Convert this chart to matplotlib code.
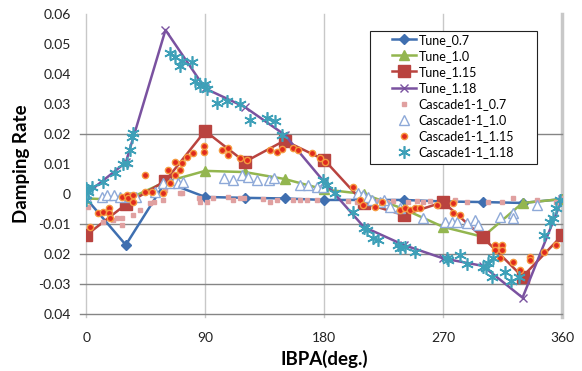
import numpy as np
import matplotlib
matplotlib.use("Agg")
import matplotlib.pyplot as plt
from matplotlib.patches import Rectangle

plt.rcParams['font.family'] = ['Lato', 'DejaVu Sans']

# Tune curves (every 30 deg)
tune_x = [0, 30, 60, 90, 120, 150, 180, 210, 240, 270, 300, 330, 360]
tune_07 = [-0.0015, -0.017, 0.004, -0.001, -0.0013, -0.0015, -0.002, -0.002,
           -0.002, -0.0025, -0.0027, -0.003, -0.0017]
tune_10 = [-0.0015, -0.002, 0.004, 0.0077, 0.0073, 0.005, 0.0015, 0.0,
           -0.005, -0.011, -0.0143, -0.003, -0.0017]
tune_115 = [-0.0138, -0.0035, 0.0044, 0.021, 0.0107, 0.0178, 0.0114, -0.003,
            -0.007, -0.0027, -0.0145, -0.0276, -0.0138]
tune_118 = [0.0, 0.0105, 0.0547, 0.0352, 0.029, 0.0198, 0.004, -0.011,
            -0.017, -0.0215, -0.024, -0.0346, -0.0017]

# Cascade1-1 scatter data
c07_x = [1.5, 10.6, 13, 20, 23, 27, 27, 35.5, 41, 48, 51, 58, 60, 71, 72.5,
         85, 86, 91.5, 96, 107, 111, 116.5, 119, 134, 139, 144.5, 156.5, 162,
         167, 174.7, 198, 205, 215, 221, 227.6, 232, 243.5, 250, 255, 260,
         279, 288, 304, 314.6, 323, 341, 355, 360]
c07_y = [-0.0044, -0.0064, -0.0094, -0.0087, -0.008, -0.008, -0.0104, -0.007,
         -0.0054, -0.003, -0.0027, -0.002, 0.0013, 0.0003, 0.0003, -0.0013,
         -0.0027, -0.0027, -0.0013, -0.001, -0.002, -0.0013, -0.0013, -0.0017,
         -0.0027, -0.002, -0.002, -0.002, -0.002, -0.002, -0.0023, -0.0027,
         -0.0025, -0.0022, -0.0027, -0.0024, -0.0026, -0.0023, -0.0027,
         -0.0024, -0.002, -0.0027, -0.0027, -0.0027, -0.0013, -0.002, -0.0027,
         -0.0013]

c10_x = [0, 12, 15.6, 20.7, 25.7, 33, 38, 52, 58, 63.5, 67, 69.6, 73.5, 104,
         111, 118, 122.6, 129, 138, 141.7, 162, 168, 174.5, 179, 205.7, 209,
         213, 216, 222, 225, 230, 237.5, 255, 271.5, 277, 280.6, 288, 294,
         296, 313, 323, 323, 341]
c10_y = [-0.001, -0.001, -0.0003, -0.0003, -0.001, -0.001, -0.001, 0.0007,
         0.0037, 0.0037, 0.0047, 0.0037, 0.004, 0.0054, 0.0047, 0.0064, 0.0057,
         0.0047, 0.0047, 0.0054, 0.003, 0.003, 0.0024, 0.0024, 0.0003, -0.0003,
         -0.001, -0.002, -0.0027, -0.002, -0.0044, -0.0047, -0.008, -0.0094,
         -0.0094, -0.0094, -0.0097, -0.0087, -0.0104, -0.0077, -0.0064, -0.008,
         -0.0037]

c115_x = [3, 9, 13, 17, 17, 18, 27, 31, 32, 35.5, 35.5, 44.6, 44.6, 50, 58,
          62, 63.5, 67, 67, 71, 72.5, 76, 81, 89, 89, 103, 107, 107, 116.5,
          121.7, 139, 144, 148, 156.5, 160, 171, 177, 181, 202, 207, 209,
          218.6, 224, 237.5, 241, 245, 249, 252.6, 265.5, 277.6, 277.6, 283,
          309, 309, 314.6, 314.6, 313, 323, 328, 336, 336, 346, 355]
c115_y = [-0.011, -0.0064, -0.006, -0.0047, -0.0064, -0.008, -0.001, -0.0003,
          -0.0013, -0.0003, -0.0027, 0.0007, 0.0064, 0.0007, 0.0003, 0.008,
          0.0037, 0.0107, 0.0064, 0.008, 0.0104, 0.0124, 0.0137, 0.016, 0.0141,
          0.0148, 0.0154, 0.013, 0.012, 0.0114, 0.0148, 0.0141, 0.015, 0.0154,
          0.0148, 0.0137, 0.012, 0.0107, 0.0024, -0.002, -0.0037, -0.0044,
          -0.0027, -0.0054, -0.0047, -0.0054, -0.0047, -0.0047, -0.0037,
          -0.003, -0.0064, -0.007, -0.0171, -0.0188, -0.0171, -0.0188, -0.0215,
          -0.0228, -0.0255, -0.021, -0.022, -0.0195, -0.0171]

c118_x = [0, 0, 1.5, 4.5, 13, 22, 28, 31, 33, 35, 35.5, 63.5, 67, 71, 72.5,
          80, 82.5, 86, 90, 91.5, 99, 106.5, 116.5, 124, 137, 143, 148, 179,
          182, 188, 202, 210, 212.5, 217, 221, 236, 237.5, 241, 249, 273, 274,
          283, 288, 300, 302, 304, 307, 308, 317, 321, 327, 346, 351, 353, 355,
          358]
c118_y = [0.002, -0.002, 0.0007, 0.0024, 0.004, 0.007, 0.010, 0.0104, 0.0148,
          0.019, 0.0204, 0.047, 0.0456, 0.0427, 0.0443, 0.044, 0.0376, 0.036,
          0.0366, 0.035, 0.0305, 0.031, 0.030, 0.0248, 0.0255, 0.0242, 0.0198,
          0.0047, 0.003, 0.0003, -0.006, -0.0114, -0.012, -0.0148, -0.0155,
          -0.0171, -0.018, -0.0178, -0.0195, -0.0215, -0.022, -0.0205, -0.0232,
          -0.0245, -0.0248, -0.023, -0.0278, -0.0215, -0.0262, -0.029, -0.0278,
          -0.0138, -0.0094, -0.008, -0.0047, -0.002]

y_ticks = [0.06, 0.05, 0.04, 0.03, 0.02, 0.01, 0, -0.01, -0.02, -0.03, -0.04]
y_labels = ['0.06', '0.05', '0.04', '0.03', '0.02', '0.01', '0',
            '-0.01', '0.02', '-0.03', '0.04']
x_ticks = [0, 90, 180, 270, 360]
grid_y = [0.02, -0.01, -0.02, -0.03, -0.04]

fig = plt.figure(figsize=(5.82, 3.71), dpi=100)
ax = fig.add_axes([0.148, 0.154, 0.818, 0.808])

for v in x_ticks:
    ax.axvline(v, ymin=-0.012, color='#c8c8c8', lw=1.0 if v < 360 else 2.5,
               clip_on=False, zorder=0)
for v in grid_y:
    ax.axhline(v, xmin=-0.012, color='#858585', lw=1.0, clip_on=False, zorder=0)

ax.plot(tune_x, tune_07, color='#3f6fb0', lw=1.8, marker='D', ms=5,
        label='Tune_0.7', zorder=2)
ax.plot(tune_x, tune_10, color='#93b64f', lw=1.8, marker='^', ms=7,
        label='Tune_1.0', zorder=2)
ax.plot(tune_x, tune_115, color='#b9433f', lw=1.8, marker='s', ms=8,
        label='Tune_1.15', zorder=2)
ax.plot(tune_x, tune_118, color='#7a52a0', lw=1.8, marker='x', ms=6,
        mew=1.0, label='Tune_1.18', zorder=2)

ax.plot(c07_x, c07_y, ls='none', marker='s', ms=3.5, color='#e0a0a0',
        label='Cascade1-1_0.7', zorder=3)
ax.plot(c10_x, c10_y, ls='none', marker='^', ms=7, mfc='white',
        mec='#8ea9d8', mew=1.0, label='Cascade1-1_1.0', zorder=3)
ax.plot(c115_x, c115_y, ls='none', marker='o', ms=4.5, mfc='#e02a1e',
        mec='#f59a40', mew=1.0, label='Cascade1-1_1.15', zorder=4)
ax.plot(c118_x, c118_y, ls='none', marker=(6, 2, 0), ms=9, mew=1.2,
        color='#3ea0b8', label='Cascade1-1_1.18', zorder=4)

ax.set_xlim(0, 360)
ax.set_ylim(-0.04, 0.06)
ax.set_xticks(x_ticks)
ax.set_yticks(y_ticks)
ax.set_yticklabels(y_labels)
ax.tick_params(axis='both', length=0, labelsize=10, colors='#222222')
ax.tick_params(axis='x', pad=13)
ax.tick_params(axis='y', pad=11)
for s in ax.spines.values():
    s.set_visible(False)

ax.set_xlabel('IBPA(deg.)', fontsize=13.5, fontweight='bold', labelpad=4)
ax.set_ylabel('Damping Rate', fontsize=13.5, fontweight='bold', labelpad=6)

# legend box: white panel with a thin frame, entries placed inside
box = Rectangle((0.597, 0.5), 0.35, 0.443, transform=ax.transAxes,
                facecolor='white', edgecolor='#222222', lw=0.8, zorder=5)
ax.add_patch(box)
leg = ax.legend(loc='upper left', bbox_to_anchor=(0.643, 0.935), fontsize=9,
                frameon=False, labelspacing=0.33, handlelength=1.9,
                handletextpad=0.2, borderpad=0.0, borderaxespad=0)
leg.set_zorder(6)

fig.savefig('out.png', dpi=100)
